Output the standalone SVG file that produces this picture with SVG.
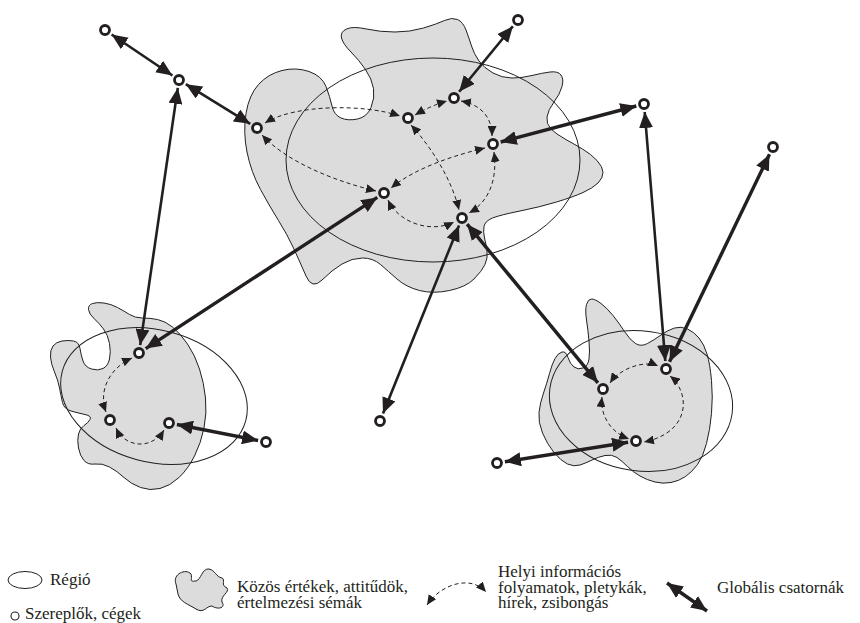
<svg xmlns="http://www.w3.org/2000/svg" width="860" height="623" viewBox="0 0 860 623">
<style>
.blob{fill:#dcdcdc;stroke:#231f20;stroke-width:1}
.reg{fill:none;stroke:#231f20;stroke-width:1}
.node{fill:#fff;stroke:#231f20;stroke-width:2.8}
.g{fill:none;stroke:#231f20;stroke-width:2.6;marker-start:url(#ah);marker-end:url(#ah)}
.gt{stroke-width:3.4}
.l{fill:none;stroke:#231f20;stroke-width:1;stroke-dasharray:4 3;marker-start:url(#sh);marker-end:url(#sh)}
.t{font-family:'Liberation Serif','Times New Roman',serif;font-size:17px;fill:#231f20}
</style>
<defs>
<marker id="ah" viewBox="0 0 16 14" refX="16" refY="7" markerWidth="16" markerHeight="14" markerUnits="userSpaceOnUse" orient="auto-start-reverse"><path d="M0,0 L16,7 L0,14 z" fill="#231f20" stroke="none"/></marker>
<marker id="sh" viewBox="0 0 10 9" refX="10" refY="4.5" markerWidth="10" markerHeight="9" markerUnits="userSpaceOnUse" orient="auto-start-reverse"><path d="M0,0 L10,4.5 L0,9 z" fill="#231f20" stroke="none"/></marker>
</defs>
<rect width="860" height="623" fill="#fff"/>
<g id="blob-main">
<path class="blob" d="M341.5,38 Q340,32 346.5,29 Q353,26 366.5,29 Q380,32 395,32 Q410,32 423.5,28 Q437,24 444.5,20.5 Q452,17 457.5,19.5 Q463,22 466,30 Q469,38 471.5,46 Q474,54 479,61 Q484,68 493,73 Q502,78 512,78 Q522,78 532,75.5 Q542,73 550,72 Q558,71 561,75 Q564,79 562,86.5 Q560,94 554,102 Q548,110 547,117 Q546,124 551,129 Q556,134 565,139 Q574,144 582.5,149 Q591,154 597,160.5 Q603,167 603,172.5 Q603,178 598,183 Q593,188 583,192.5 Q573,197 556.5,202 Q540,207 520,211 Q500,215 492.5,218 Q485,221 484,226.5 Q483,232 484.5,238 Q486,244 487,251 Q488,258 485,264.5 Q482,271 474,279 Q466,287 449.5,290.5 Q433,294 419.5,290.5 Q406,287 397,279 Q388,271 380.5,264.5 Q373,258 362.5,258 Q352,258 342,264 Q332,270 322,280 Q312,290 306,276 Q300,262 293.5,248 Q287,234 278.5,220.5 Q270,207 260.5,189.5 Q251,172 247,152 Q243,132 246,113.5 Q249,95 258.5,84.5 Q268,74 282,70.5 Q296,67 309,71.5 Q322,76 326,86.5 Q330,97 332,106 Q334,115 341,118 Q348,121 357.5,119 Q367,117 371,107.5 Q375,98 373.5,88.5 Q372,79 365.5,69.5 Q359,60 351,52 Q343,44 341.5,38 Z"/>
</g>
<g id="blob-left">
<path class="blob" d="M88.5,309.5 Q88,305 92.5,303.5 Q97,302 104,303 Q111,304 117.5,307.5 Q124,311 129.5,314.5 Q135,318 142.5,318 Q150,318 157.5,319.5 Q165,321 172.5,327 Q180,333 187.5,344 Q195,355 199.5,369 Q204,383 205.5,398 Q207,413 204,428 Q201,443 194.5,456 Q188,469 179,477.5 Q170,486 160,488.5 Q150,491 140.5,487.5 Q131,484 124,477.5 Q117,471 109.5,467 Q102,463 95,464 Q88,465 84,460.5 Q80,456 78.5,448 Q77,440 78.5,434 Q80,428 84,425.5 Q88,423 90,419.5 Q92,416 85,414.5 Q78,413 71,411 Q64,409 62.5,402.5 Q61,396 59.5,388 Q58,380 54.5,372 Q51,364 50.5,357 Q50,350 53,346 Q56,342 62,341 Q68,340 73.5,341 Q79,342 80,348.5 Q81,355 83,361 Q85,367 91.5,369 Q98,371 103,368.5 Q108,366 109.5,359 Q111,352 109.5,343.5 Q108,335 103.5,329 Q99,323 94,318.5 Q89,314 88.5,309.5 Z"/>
</g>
<g id="blob-right">
<path class="blob" d="M586.5,304.5 Q588,299 591.5,299 Q595,299 601,303.5 Q607,308 613,315.5 Q619,323 624.5,331.5 Q630,340 635.5,343.5 Q641,347 647.5,343.5 Q654,340 661,335 Q668,330 674.5,328 Q681,326 687.5,329 Q694,332 699,338 Q704,344 707,354 Q710,364 711.5,380.5 Q713,397 711.5,413.5 Q710,430 706.5,443.5 Q703,457 697.5,464.5 Q692,472 685.5,476.5 Q679,481 671,482.5 Q663,484 655,482 Q647,480 640,476 Q633,472 627.5,466.5 Q622,461 617,457.5 Q612,454 605,455.5 Q598,457 592,460 Q586,463 580,465 Q574,467 567.5,464 Q561,461 554,452.5 Q547,444 542.5,433 Q538,422 539,412.5 Q540,403 543.5,393 Q547,383 549.5,373.5 Q552,364 555,358.5 Q558,353 562,352 Q566,351 568,357.5 Q570,364 574,367 Q578,370 583,368 Q588,366 589,359 Q590,352 589,341 Q588,330 586.5,320 Q585,310 586.5,304.5 Z"/>
</g>
<g id="region-main"><ellipse class="reg" cx="433" cy="160" rx="147" ry="102"/></g>
<g id="region-left"><ellipse class="reg" cx="154" cy="396" rx="95" ry="66" transform="rotate(15 154 396)"/></g>
<g id="region-right"><ellipse class="reg" cx="641" cy="401" rx="92" ry="70" transform="rotate(8 641 401)"/></g>
<g id="connectors">
<path class="l" d="M265,123 C295,104 365,104 400,116"/>
<path class="l" d="M415,115 Q430,106 447,101"/>
<path class="l" d="M461,101 C482,105 492,118 492,136"/>
<path class="l" d="M262,135 C285,160 330,180 376,191"/>
<path class="l" d="M411,125 C432,148 452,180 459,210"/>
<path class="l" d="M485,148 C455,155 415,168 391,188"/>
<path class="l" d="M494,152 C497,175 492,200 469,213"/>
<path class="l" d="M388,200 C398,222 430,234 454,222"/>
<path class="l" d="M132,358 C110,368 98,390 106,412"/>
<path class="l" d="M116,428 C125,448 152,450 164,430"/>
<path class="l" d="M610,383 C620,368 645,360 658,366"/>
<path class="l" d="M602,397 C600,415 610,432 629,439"/>
<path class="l" d="M670,376 C690,392 692,432 644,442"/>
<line class="g" x1="111.6" y1="34.5" x2="172.4" y2="75.5"/>
<line class="g" x1="185.8" y1="84.2" x2="250.2" y2="123.8"/>
<line class="g" x1="177.8" y1="87.9" x2="140.2" y2="345.1"/>
<line class="g gt" x1="377.3" y1="197.4" x2="145.7" y2="348.6"/>
<line class="g" x1="459.1" y1="91.8" x2="512.9" y2="26.2"/>
<line class="g gt" x1="500.7" y1="142" x2="636.3" y2="106"/>
<line class="g" x1="459" y1="225.4" x2="383" y2="413.6"/>
<line class="g gt" x1="467.1" y1="224.2" x2="597.9" y2="382.8"/>
<line class="g" x1="644.7" y1="112" x2="665.3" y2="361"/>
<line class="g gt" x1="769.5" y1="154.2" x2="669.5" y2="361.8"/>
<line class="g gt" x1="176.9" y1="424.5" x2="258.1" y2="440.5"/>
<line class="g gt" x1="504.9" y1="461.8" x2="628.1" y2="442.2"/>
</g>
<g id="n1"><circle class="node" cx="105" cy="30" r="4.5"/></g>
<g id="n2"><circle class="node" cx="179" cy="80" r="4.5"/></g>
<g id="nA"><circle class="node" cx="257" cy="128" r="4.5"/></g>
<g id="nB"><circle class="node" cx="408" cy="118" r="4.5"/></g>
<g id="nC"><circle class="node" cx="454" cy="98" r="4.5"/></g>
<g id="nD"><circle class="node" cx="493" cy="144" r="4.5"/></g>
<g id="nE"><circle class="node" cx="384" cy="193" r="4.5"/></g>
<g id="nF"><circle class="node" cx="462" cy="218" r="4.5"/></g>
<g id="nG"><circle class="node" cx="518" cy="20" r="4.5"/></g>
<g id="nH"><circle class="node" cx="644" cy="104" r="4.5"/></g>
<g id="nI"><circle class="node" cx="773" cy="147" r="4.5"/></g>
<g id="nJ"><circle class="node" cx="380" cy="421" r="4.5"/></g>
<g id="nK"><circle class="node" cx="139" cy="353" r="4.5"/></g>
<g id="nL"><circle class="node" cx="110" cy="420" r="4.5"/></g>
<g id="nM"><circle class="node" cx="169" cy="423" r="4.5"/></g>
<g id="nN"><circle class="node" cx="266" cy="442" r="4.5"/></g>
<g id="nP"><circle class="node" cx="603" cy="389" r="4.5"/></g>
<g id="nQ"><circle class="node" cx="666" cy="369" r="4.5"/></g>
<g id="nR"><circle class="node" cx="636" cy="441" r="4.5"/></g>
<g id="nS"><circle class="node" cx="497" cy="463" r="4.5"/></g>
<g id="legend">
<ellipse class="reg" cx="25" cy="580" rx="17" ry="8.5"/>
<text class="t" x="50" y="585">Régió</text>
<circle cx="15" cy="616" r="4" fill="#fff" stroke="#231f20" stroke-width="1.1"/>
<text class="t" x="25" y="619">Szereplők, cégek</text>
<path class="blob" d="M176,584 C172,574 186,568 191,574 C193,579 188,582 196,581 C201,580 202,568 209,569 C215,570 216,577 222,578 C226,580 220,585 227,588 C230,592 220,596 222,602 C226,608 218,610 212,606 C206,606 204,614 196,609 C188,604 180,602 178,594 Z"/>
<text class="t" x="237" y="592">Közös értékek, attitűdök,</text>
<text class="t" x="237" y="607.5">értelmezési sémák</text>
<path class="l" d="M427,605 C440,585 470,574 486,592"/>
<text class="t" x="498" y="577">Helyi információs</text>
<text class="t" x="498" y="592.5">folyamatok, pletykák,</text>
<text class="t" x="498" y="608">hírek, zsibongás</text>
<line class="g gt" x1="667" y1="583" x2="707" y2="611"/>
<text class="t" x="717" y="593">Globális csatornák</text>
</g>
</svg>
